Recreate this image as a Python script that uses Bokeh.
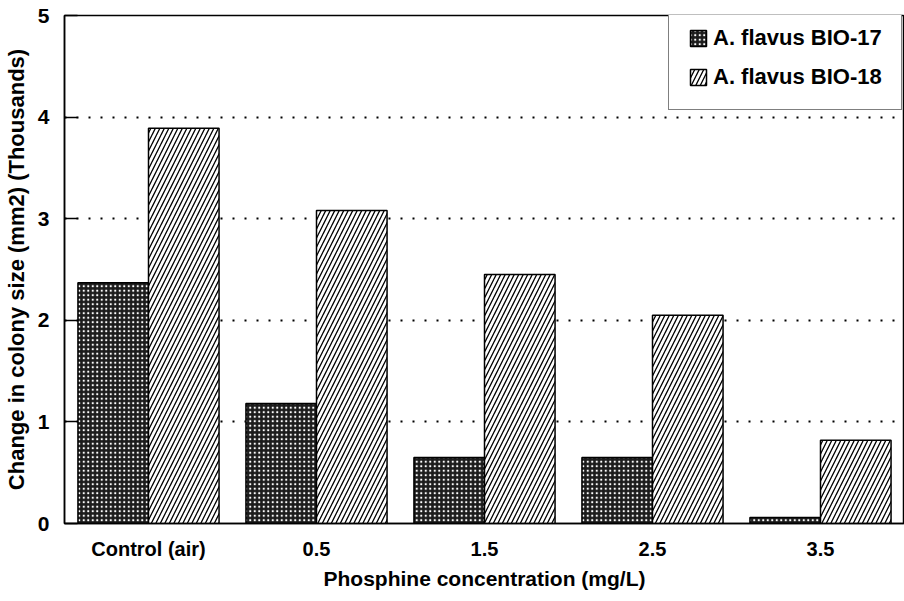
from bokeh.plotting import figure
from bokeh.models import ColumnDataSource, FactorRange, Range1d, Legend, LegendItem, FixedTicker
from bokeh.transform import dodge
from bokeh.embed import file_html
from bokeh.resources import INLINE

categories = ["Control (air)", "0.5", "1.5", "2.5", "3.5"]
bio17 = [2.37, 1.18, 0.65, 0.65, 0.06]
bio18 = [3.89, 3.08, 2.45, 2.05, 0.82]
y_ticks = [0, 1, 2, 3, 4, 5]

FONT = "Liberation Sans"

src = ColumnDataSource(data=dict(cat=categories, b17=bio17, b18=bio18))

p = figure(width=904, height=601, x_range=FactorRange(*categories, range_padding=0),
           y_range=Range1d(0, 5), output_backend="svg", toolbar_location=None,
           min_border_left=64, min_border_top=15, min_border_bottom=78, min_border_right=0)
p.x_range.range_padding = 0

r17 = p.vbar(x=dodge("cat", -0.21, range=p.x_range), top="b17", width=0.42, source=src,
             fill_color="#1c1c1c", line_color="black", line_width=1.5,
             hatch_pattern="dot", hatch_color="white", hatch_scale=4.5, hatch_weight=1.3)
r18 = p.vbar(x=dodge("cat", 0.21, range=p.x_range), top="b18", width=0.42, source=src,
             fill_color="white", line_color="black", line_width=1.5,
             hatch_pattern="right_diagonal_line", hatch_color="black", hatch_scale=9, hatch_weight=1.3)

p.outline_line_color = "black"
p.outline_line_width = 1.5

p.xgrid.grid_line_color = None
p.ygrid.grid_line_color = "black"
p.ygrid.grid_line_width = 2
p.ygrid.grid_line_dash = "2 10"
p.ygrid.ticker = FixedTicker(ticks=[1, 2, 3, 4])

p.yaxis.ticker = FixedTicker(ticks=y_ticks)
p.yaxis.major_tick_in = 13
p.yaxis.major_tick_out = 0
p.yaxis.minor_tick_line_color = None
p.yaxis.axis_line_width = 1.5
p.yaxis.major_tick_line_width = 1.5
p.yaxis.axis_label = "Change in colony size (mm2) (Thousands)"
p.xaxis.axis_label = "Phosphine concentration (mg/L)"
p.xaxis.major_tick_line_color = None
p.xaxis.axis_line_width = 1.5

for ax in (p.xaxis[0], p.yaxis[0]):
    ax.major_label_text_font = FONT
    ax.major_label_text_font_style = "bold"
    ax.major_label_text_color = "black"
    ax.axis_label_text_font = FONT
    ax.axis_label_text_font_style = "bold"
    ax.axis_label_text_color = "black"
    ax.axis_line_color = "black"

p.xaxis.major_label_text_font_size = "20px"
p.yaxis.major_label_text_font_size = "21px"
p.xaxis.axis_label_text_font_size = "21px"
p.yaxis.axis_label_text_font_size = "22px"

p.xaxis.major_label_standoff = 8
p.xaxis.axis_label_standoff = 4
p.yaxis.major_label_standoff = 15
p.yaxis.axis_label_standoff = 6

legend = Legend(items=[LegendItem(label="A. flavus BIO-17", renderers=[r17]),
                       LegendItem(label="A. flavus BIO-18", renderers=[r18])],
                location=(604, 413), margin=0, padding=19, spacing=13,
                glyph_width=20, glyph_height=20, label_standoff=5,
                label_text_font=FONT, label_text_font_style="bold", label_text_font_size="22px",
                label_text_color="black",
                border_line_color="black", border_line_width=1.5,
                background_fill_color="white", background_fill_alpha=1.0)
p.add_layout(legend, "center")

open("out.html", "w").write(file_html(p, INLINE))
